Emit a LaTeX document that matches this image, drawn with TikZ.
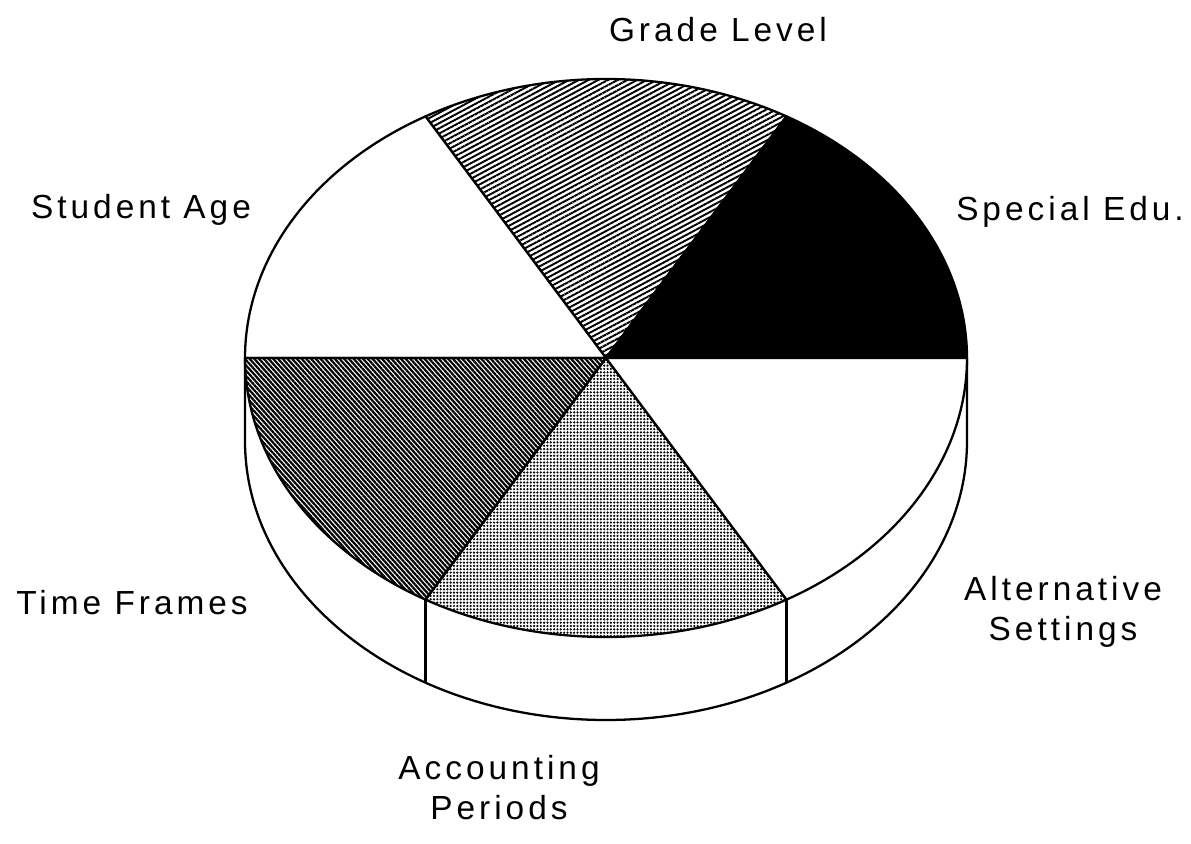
\documentclass[tikz,border=0pt]{standalone}
\usepackage{fontspec}
\setmainfont[LetterSpace=12]{Liberation Sans}
\usetikzlibrary{calc,patterns.meta}

\begin{document}
\begin{tikzpicture}[x=0.02cm,y=0.02cm,
    rim/.style={line width=1.3pt, line join=round},
    label/.style={font=\fontsize{19}{22.8}\selectfont, align=center, inner sep=0pt},
    gradefill/.style={pattern={Lines[angle=28,distance=2.6pt,line width=1.1pt]}},
    timefill/.style={pattern={Lines[angle=-48,distance=2pt,line width=1.25pt]}},
    accountfill/.style={pattern={Dots[distance=1.9pt,radius=0.7pt]}}]

    \useasboundingbox (0,0) rectangle (1191,843);

    \coordinate (c) at (606,485);
    \coordinate (cb) at (606,402);

    % side of the pie
    \draw[rim, fill=white] (245,485) -- (245,402)
        arc[start angle=180, end angle=360, x radius=361, y radius=279]
        -- (967,485);
    \draw[rim] ($(c)+(240:361 and 279)$) -- ($(cb)+(240:361 and 279)$);
    \draw[rim] ($(c)+(300:361 and 279)$) -- ($(cb)+(300:361 and 279)$);

    % top slices
    \draw[rim, fill=black] (c) -- ++(0:361 and 279)
        arc[start angle=0, end angle=60, x radius=361, y radius=279] -- cycle;
    \draw[rim, gradefill] (c) -- ++(60:361 and 279)
        arc[start angle=60, end angle=120, x radius=361, y radius=279] -- cycle;
    \draw[rim, fill=white] (c) -- ++(120:361 and 279)
        arc[start angle=120, end angle=180, x radius=361, y radius=279] -- cycle;
    \draw[rim, timefill] (c) -- ++(180:361 and 279)
        arc[start angle=180, end angle=240, x radius=361, y radius=279] -- cycle;
    \draw[rim, accountfill] (c) -- ++(240:361 and 279)
        arc[start angle=240, end angle=300, x radius=361, y radius=279] -- cycle;
    \draw[rim, fill=white] (c) -- ++(300:361 and 279)
        arc[start angle=300, end angle=360, x radius=361, y radius=279] -- cycle;

    \node[label] (grade) at (718,813) {Grade Level};
    \node[label] (special) at (1070,631) {Special Edu.};
    \node[label] (age) at (141,633) {Student Age};
    \node[label] (time) at (132,240) {Time Frames};
    \node[label] (alt) at (1063,231) {Alternative\\Settings};
    \node[label] (account) at (499,55) {Accounting\\Periods};
\end{tikzpicture}
\end{document}
